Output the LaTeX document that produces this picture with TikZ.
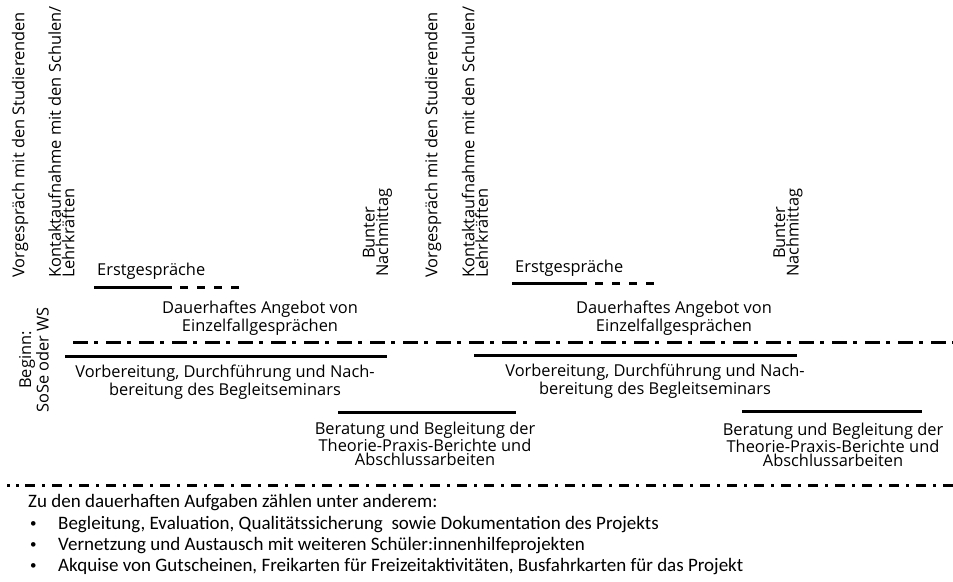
\documentclass[tikz,border=0pt]{standalone}
\usepackage{fontspec}
\setmainfont{Open Sans}
\newfontfamily\listfont{Carlito}
\usetikzlibrary{calc, positioning}

\tikzset{
	lbl/.style={font=\fontsize{16.4}{13.5}\selectfont, inner sep=0, align=center},
	vlbl/.style={lbl, rotate=90, anchor=west},
	bar/.style={line width=3pt},
	dashbar/.style={line width=3pt, dash pattern=on 8pt off 9pt},
	dotbar/.style={line width=3pt, dash pattern=on 15pt off 6pt on 4pt off 8pt},
	listtxt/.style={font=\listfont\fontsize{19}{21}\selectfont, inner sep=0, anchor=base west},
	bullet/.style={font=\listfont\fontsize{13}{15}\selectfont, inner sep=0, anchor=base west}
}

\begin{document}
\begin{tikzpicture}[x=1pt,y=-1pt]
	\useasboundingbox (0,0) rectangle (953,581);
	
	% bar ends, first semester
	\coordinate (Es1) at (94,287);
	\coordinate (Ee1) at (172,287);
	\coordinate (Ed1) at (239,287);
	\coordinate (Vs1) at (65,356);
	\coordinate (Ve1) at (387,356);
	\coordinate (Bs1) at (338,412);
	\coordinate (Be1) at (516,412);
	
	% bar ends, second semester
	\coordinate (Es2) at (512,283);
	\coordinate (Ee2) at (587,283);
	\coordinate (Ed2) at (657,283);
	\coordinate (Vs2) at (474,355);
	\coordinate (Ve2) at (797,355);
	\coordinate (Bs2) at (742,411);
	\coordinate (Be2) at (922,411);
	
	% dash-dot lines
	\coordinate (Ds) at (73,342);
	\coordinate (De) at (953,342);
	\coordinate (Ls) at (7,485);
	\coordinate (Lm) at (25,485);
	\coordinate (Le) at (953,485);
	
	\node[vlbl] (vor1) at (20,278) {Vorgespräch mit den Studierenden};
	\node[vlbl, align=left] (kon1) at (61.5,278) {Kontaktaufnahme mit den Schulen/\\Lehrkräften};
	\node[vlbl] (bun1) at (377.5,277) {Bunter\\Nachmittag};
	\node[vlbl] (vor2) at (433,278) {Vorgespräch mit den Studierenden};
	\node[vlbl, align=left] (kon2) at (475,278) {Kontaktaufnahme mit den Schulen/\\Lehrkräften};
	\node[vlbl] (bun2) at (788,277) {Bunter\\Nachmittag};
	\node[lbl, rotate=90] (beg) at (34,360) {Beginn:\\SoSe oder WS};
	
	\node[lbl, anchor=base west] (erst1) at (97,275) {Erstgespräche};
	\node[lbl, anchor=base west] (erst2) at (515,272) {Erstgespräche};
	\node[lbl] (dau1) at (260,318) {Dauerhaftes Angebot von\\Einzelfallgesprächen};
	\node[lbl] (dau2) at (674,318) {Dauerhaftes Angebot von\\Einzelfallgesprächen};
	\node[lbl] (sem1) at (225,382) {Vorbereitung, Durchführung und Nach-\\bereitung des Begleitseminars};
	\node[lbl] (sem2) at (655,381) {Vorbereitung, Durchführung und Nach-\\bereitung des Begleitseminars};
	\node[lbl, font=\fontsize{16.4}{14}\selectfont] (ber1) at (425,444) {Beratung und Begleitung der\\Theorie-Praxis-Berichte und\\Abschlussarbeiten};
	\node[lbl, font=\fontsize{16.4}{14}\selectfont] (ber2) at (833,445) {Beratung und Begleitung der\\Theorie-Praxis-Berichte und\\Abschlussarbeiten};
	
	\draw[bar] (Es1)--(Ee1);
	\draw[dashbar] ($(Ee1)+(8,0)$)--(Ed1);
	\draw[bar] (Es2)--(Ee2);
	\draw[dashbar] ($(Ee2)+(8,0)$)--(Ed2);
	\draw[bar] (Vs1)--(Ve1);
	\draw[bar] (Vs2)--(Ve2);
	\draw[bar] (Bs1)--(Be1);
	\draw[bar] (Bs2)--(Be2);
	\draw[dotbar] (Ds)--(De);
	\draw[line width=3pt, dash pattern=on 3pt off 6pt] (Ls)--(Lm);
	\draw[line width=3pt, dash pattern=on 10pt off 7pt on 3pt off 7pt] (Lm)--(Le);
	
	\node[listtxt] (aufg) at (28,507) {Zu den dauerhaften Aufgaben zählen unter anderem:};
	\node[bullet] (b1) at (30,527) {\textbullet};
	\node[listtxt] (t1) at (58,529) {Begleitung, Evaluation, Qualitätssicherung\ \ sowie Dokumentation des Projekts};
	\node[bullet] (b2) at (30,548) {\textbullet};
	\node[listtxt] (t2) at (58,550) {Vernetzung und Austausch mit weiteren Schüler:innenhilfeprojekten};
	\node[bullet] (b3) at (30,569) {\textbullet};
	\node[listtxt] (t3) at (58,571) {Akquise von Gutscheinen, Freikarten für Freizeitaktivitäten, Busfahrkarten für das Projekt};
\end{tikzpicture}
\end{document}
